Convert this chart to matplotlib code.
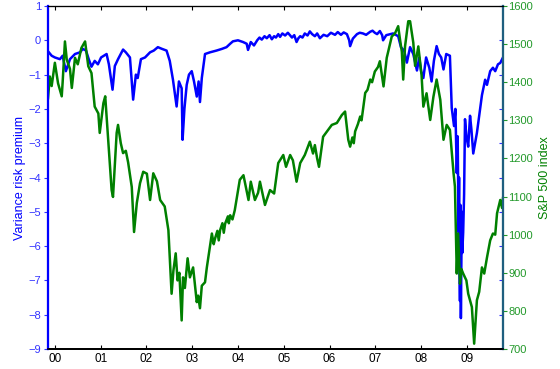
import matplotlib
matplotlib.use("Agg")
import matplotlib.pyplot as plt
import numpy as np

# variance risk premium (left axis), dates in decimal years
vrp_t = [1999.85, 1999.93, 2000.00, 2000.11, 2000.17, 2000.24, 2000.33, 2000.44,
         2000.55, 2000.61, 2000.68, 2000.74, 2000.80, 2000.87, 2000.94, 2001.01,
         2001.07, 2001.13, 2001.18, 2001.26, 2001.31, 2001.38, 2001.44, 2001.49,
         2001.55, 2001.64, 2001.71, 2001.77, 2001.81, 2001.88, 2001.97, 2002.08,
         2002.16, 2002.25, 2002.34, 2002.44, 2002.51, 2002.58, 2002.66, 2002.71,
         2002.77, 2002.79, 2002.83, 2002.88, 2002.93, 2002.99, 2003.04, 2003.10,
         2003.14, 2003.17, 2003.21, 2003.28, 2003.39, 2003.53, 2003.65, 2003.75,
         2003.83, 2003.89, 2004.00, 2004.11, 2004.19, 2004.22, 2004.28, 2004.35,
         2004.42, 2004.47, 2004.52, 2004.58, 2004.63, 2004.69, 2004.74, 2004.79,
         2004.83, 2004.88, 2004.92, 2004.97, 2005.03, 2005.09, 2005.18, 2005.23,
         2005.28, 2005.32, 2005.36, 2005.41, 2005.46, 2005.52, 2005.57, 2005.62,
         2005.68, 2005.73, 2005.79, 2005.87, 2005.95, 2006.03, 2006.12, 2006.18,
         2006.25, 2006.31, 2006.38, 2006.43, 2006.45, 2006.51, 2006.60, 2006.66,
         2006.73, 2006.80, 2006.89, 2006.94, 2006.99, 2007.04, 2007.10, 2007.15,
         2007.17, 2007.24, 2007.39, 2007.50, 2007.56, 2007.63, 2007.69, 2007.76,
         2007.83, 2007.91, 2007.96, 2008.00, 2008.05, 2008.11, 2008.18, 2008.23,
         2008.28, 2008.34, 2008.39, 2008.44, 2008.49, 2008.55, 2008.63, 2008.67,
         2008.72, 2008.75, 2008.78, 2008.80, 2008.82, 2008.83, 2008.84, 2008.85,
         2008.86, 2008.87, 2008.89, 2008.90, 2008.92, 2008.94, 2008.96, 2008.99,
         2009.03, 2009.07, 2009.10, 2009.14, 2009.22, 2009.27, 2009.33, 2009.40,
         2009.44, 2009.51, 2009.57, 2009.62, 2009.68, 2009.73, 2009.77, 2009.79]
vrp = [-0.32, -0.45, -0.50, -0.55, -0.45, -0.90, -0.55, -0.40,
       -0.35, -0.25, -0.30, -0.55, -0.77, -0.60, -0.70, -0.50,
       -0.45, -0.40, -0.70, -1.44, -0.75, -0.55, -0.40, -0.27,
       -0.35, -0.50, -1.73, -1.00, -1.10, -0.55, -0.50, -0.35,
       -0.30, -0.20, -0.25, -0.30, -0.60, -1.15, -1.93, -1.20,
       -1.40, -2.90, -2.00, -1.30, -1.00, -0.90, -1.20, -1.64,
       -1.20, -1.80, -1.10, -0.40, -0.35, -0.30, -0.25, -0.20,
       -0.10, -0.03, 0.00, -0.05, -0.10, -0.28, -0.05, -0.15,
       0.00, 0.08, 0.02, 0.12, 0.06, 0.15, 0.03, 0.12,
       0.08, 0.18, 0.10, 0.20, 0.14, 0.22, 0.08, 0.15,
       -0.05, 0.06, 0.12, 0.08, 0.20, 0.14, 0.26, 0.18,
       0.12, 0.20, 0.06, 0.16, 0.12, 0.22, 0.16, 0.24,
       0.16, 0.23, 0.18, 0.00, -0.17, 0.05, 0.18, 0.22,
       0.20, 0.16, 0.25, 0.28, 0.22, 0.18, 0.27, 0.15,
       0.00, 0.15, 0.20, 0.12, -0.20, -0.30, -0.65, -0.20,
       -0.40, -0.88, -0.50, -0.90, -1.10, -0.50, -0.80, -1.20,
       -0.60, -0.17, -0.40, -0.50, -0.85, -0.40, -0.45, -1.97,
       -2.50, -2.00, -3.87, -2.80, -5.60, -4.00, -6.50, -7.60,
       -4.80, -8.10, -5.00, -6.20, -5.60, -4.50, -2.30, -2.80,
       -3.10, -2.20, -2.60, -3.30, -2.70, -2.20, -1.60, -1.15,
       -1.30, -0.90, -0.80, -0.90, -0.70, -0.66, -0.55, -0.50]

# S&P 500 index (right axis)
spx_t = [1999.85, 1999.89, 1999.93, 2000.00, 2000.07, 2000.15, 2000.17, 2000.22,
         2000.26, 2000.33, 2000.37, 2000.44, 2000.50, 2000.58, 2000.66, 2000.73,
         2000.80, 2000.87, 2000.95, 2000.98, 2001.06, 2001.10, 2001.17, 2001.24,
         2001.27, 2001.35, 2001.38, 2001.44, 2001.49, 2001.55, 2001.60, 2001.68,
         2001.73, 2001.79, 2001.86, 2001.93, 2002.01, 2002.08, 2002.15, 2002.23,
         2002.30, 2002.40, 2002.48, 2002.55, 2002.59, 2002.64, 2002.68, 2002.72,
         2002.77, 2002.80, 2002.84, 2002.90, 2002.95, 2003.02, 2003.10, 2003.13,
         2003.17, 2003.21, 2003.28, 2003.32, 2003.43, 2003.47, 2003.50, 2003.55,
         2003.58, 2003.61, 2003.66, 2003.69, 2003.72, 2003.78, 2003.80, 2003.83,
         2003.88, 2003.93, 2004.04, 2004.12, 2004.18, 2004.23, 2004.28, 2004.37,
         2004.44, 2004.48, 2004.59, 2004.70, 2004.79, 2004.88, 2004.99, 2005.05,
         2005.14, 2005.20, 2005.28, 2005.36, 2005.46, 2005.57, 2005.64, 2005.68,
         2005.73, 2005.77, 2005.86, 2005.97, 2006.05, 2006.16, 2006.27, 2006.34,
         2006.41, 2006.45, 2006.50, 2006.53, 2006.56, 2006.62, 2006.67, 2006.70,
         2006.74, 2006.78, 2006.83, 2006.89, 2006.93, 2006.99, 2007.06, 2007.10,
         2007.18, 2007.25, 2007.36, 2007.43, 2007.50, 2007.54, 2007.58, 2007.61,
         2007.65, 2007.72, 2007.76, 2007.83, 2007.87, 2007.94, 2008.01, 2008.05,
         2008.12, 2008.20, 2008.27, 2008.34, 2008.42, 2008.49, 2008.56, 2008.63,
         2008.71, 2008.74, 2008.78, 2008.81, 2008.85, 2008.88, 2008.92, 2008.99,
         2009.03, 2009.11, 2009.16, 2009.22, 2009.27, 2009.33, 2009.38, 2009.44,
         2009.51, 2009.57, 2009.62, 2009.66, 2009.73, 2009.77, 2009.79]
spx = [1358, 1415, 1390, 1451, 1397, 1363, 1400, 1507,
       1459, 1435, 1385, 1464, 1447, 1490, 1507, 1442,
       1424, 1336, 1318, 1267, 1345, 1363, 1240, 1117,
       1099, 1267, 1288, 1240, 1214, 1220, 1190, 1125,
       1007, 1083, 1135, 1165, 1160, 1091, 1161, 1140,
       1091, 1074, 1012, 845, 906, 951, 880, 900,
       775, 888, 860, 938, 888, 914, 823, 840,
       807, 866, 875, 914, 1003, 975, 990, 1010,
       985, 1012, 1030, 1005, 1029, 1048, 1030, 1051,
       1040, 1064, 1144, 1156, 1120, 1091, 1139, 1091,
       1110, 1139, 1078, 1117, 1108, 1188, 1209, 1178,
       1209, 1195, 1139, 1188, 1209, 1244, 1213, 1235,
       1200, 1178, 1257, 1275, 1288, 1293, 1314, 1323,
       1249, 1231, 1255, 1240, 1271, 1290, 1310, 1300,
       1335, 1372, 1380, 1407, 1400, 1428, 1440, 1455,
       1389, 1464, 1520, 1528, 1547, 1512, 1480, 1407,
       1494, 1560, 1560, 1504, 1443, 1494, 1420, 1336,
       1371, 1301, 1362, 1407, 1354, 1249, 1288, 1275,
       1161, 1126, 898, 1003, 871, 910, 898, 880,
       845, 810, 714, 828, 850, 914, 898, 940,
       985, 1003, 1000, 1056, 1091, 1070, 1096]

years = np.arange(2000, 2010)
year_labels = ['%02d' % (y - 2000) for y in years]

blue = '#0000ff'
green = '#008000'
teal = '#1f5f7f'

plt.rcParams['font.family'] = ['Liberation Sans', 'DejaVu Sans']

fig = plt.figure(figsize=(5.6, 3.69), dpi=100)
ax1 = fig.add_axes([48 / 560, 20 / 369, 455 / 560, 343 / 369])
ax1.plot(vrp_t, vrp, color=blue, lw=1.8)
ax1.set_xlim(1999.85, 2009.79)
ax1.set_ylim(-9, 1)
ax1.set_yticks(np.arange(-9, 2))
ax1.set_ylabel('Variance risk premium', color=blue, fontsize=9, labelpad=2)
ax1.tick_params(axis='y', direction='out', colors='#3333ff', labelsize=8,
                length=3, pad=2)
ax1.set_xticks(years)
ax1.set_xticklabels(year_labels)
ax1.tick_params(axis='x', direction='in', top=True, length=3, labelsize=8.5,
                pad=3)

# blue ticks pointing inward on the right edge
ax3 = ax1.twinx()
ax3.set_ylim(-9, 1)
ax3.set_yticks(np.arange(-9, 2))
ax3.tick_params(axis='y', direction='in', colors='#3333ff', length=3,
                labelright=False)

ax2 = ax1.twinx()
ax2.plot(spx_t, spx, color=green, lw=1.8)
ax2.set_ylim(700, 1600)
ax2.set_yticks(np.arange(700, 1700, 100))
ax2.set_ylabel('S&P 500 index', color=green, fontsize=9, labelpad=4)
ax2.tick_params(axis='y', direction='out', colors='#22992a', labelsize=8,
                length=3, pad=1)

for ax in (ax1, ax2, ax3):
    ax.spines['left'].set_color(blue)
    ax.spines['left'].set_linewidth(1.5)
    ax.spines['right'].set_color(teal)
    ax.spines['right'].set_linewidth(1.5)
    ax.spines['bottom'].set_linewidth(1.2)

fig.savefig('out.png', dpi=100)
